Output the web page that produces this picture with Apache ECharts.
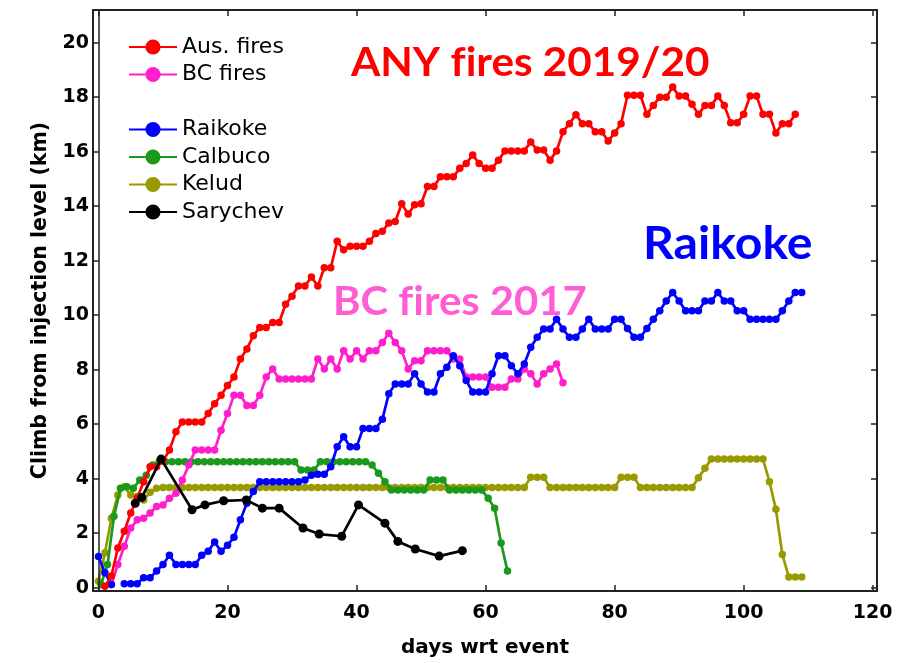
<!DOCTYPE html>
<html>
<head>
<meta charset="utf-8">
<script src="https://cdn.jsdelivr.net/npm/echarts@6/dist/echarts.min.js"></script>
<style>html,body{margin:0;padding:0;background:#fff}#c{width:917px;height:663px}</style>
</head>
<body>
<div id="c"></div>
<script>
// ---- data (day, km) ----
const xTicks = [0, 20, 40, 60, 80, 100, 120];
const yTicks = [0, 2, 4, 6, 8, 10, 12, 14, 16, 18, 20];
const seriesNames = ['Aus. fires', 'BC fires', 'Raikoke', 'Calbuco', 'Kelud', 'Sarychev'];

const ausFires = [[1,0.05],[2,0.43],[3,1.46],[4,2.07],[5,2.74],[6,3.28],[7,3.89],[8,4.44],[9,4.44],[10,4.65],[11,5.05],[12,5.72],[13,6.08],[14,6.08],[15,6.08],[16,6.08],[17,6.39],[18,6.75],[19,7.06],[20,7.42],[21,7.73],[22,8.39],[23,8.76],[24,9.25],[25,9.55],[26,9.55],[27,9.73],[28,9.73],[29,10.4],[30,10.7],[31,11.07],[32,11.07],[33,11.4],[34,11.07],[35,11.74],[36,11.74],[37,12.71],[38,12.4],[39,12.53],[40,12.53],[41,12.53],[42,12.71],[43,13.0],[44,13.08],[45,13.38],[46,13.44],[47,14.09],[48,13.71],[49,14.05],[50,14.09],[51,14.72],[52,14.72],[53,15.08],[54,15.08],[55,15.08],[56,15.39],[57,15.57],[58,15.88],[59,15.57],[60,15.39],[61,15.39],[62,15.69],[63,16.03],[64,16.03],[65,16.03],[66,16.03],[67,16.36],[68,16.06],[69,16.06],[70,15.69],[71,16.03],[72,16.73],[73,17.03],[74,17.36],[75,17.03],[76,17.03],[77,16.73],[78,16.73],[79,16.39],[80,16.69],[81,17.03],[82,18.07],[83,18.07],[84,18.07],[85,17.37],[86,17.7],[87,18.0],[88,18.0],[89,18.37],[90,18.04],[91,18.04],[92,17.74],[93,17.37],[94,17.7],[95,17.7],[96,18.04],[97,17.7],[98,17.06],[99,17.06],[100,17.37],[101,18.04],[102,18.04],[103,17.37],[104,17.37],[105,16.69],[106,17.03],[107,17.03],[108,17.37]];

const bcFires = [[2,0.12],[3,0.85],[4,1.52],[5,2.19],[6,2.49],[7,2.55],[8,2.74],[9,2.98],[10,3.04],[11,3.28],[12,3.47],[13,3.95],[14,4.5],[15,5.05],[16,5.05],[17,5.05],[18,5.05],[19,5.78],[20,6.39],[21,7.06],[22,7.06],[23,6.69],[24,6.69],[25,7.06],[26,7.73],[27,8.03],[28,7.66],[29,7.66],[30,7.66],[31,7.66],[32,7.66],[33,7.66],[34,8.39],[35,8.03],[36,8.39],[37,8.03],[38,8.7],[39,8.39],[40,8.7],[41,8.39],[42,8.7],[43,8.7],[44,9.0],[45,9.34],[46,9.0],[47,8.7],[48,8.03],[49,8.33],[50,8.33],[51,8.7],[52,8.7],[53,8.7],[54,8.7],[55,8.39],[56,8.39],[57,7.73],[58,7.73],[59,7.73],[60,7.73],[61,7.36],[62,7.36],[63,7.36],[64,7.66],[65,7.66],[66,8.03],[67,7.85],[68,7.48],[69,7.85],[70,8.03],[71,8.21],[72,7.52]];

const raikoke = [[0,1.15],[1,0.55],[2,0.12],[3,null],[4,0.15],[5,0.15],[6,0.15],[7,0.37],[8,0.37],[9,0.61],[10,0.85],[11,1.19],[12,0.85],[13,0.85],[14,0.85],[15,0.85],[16,1.19],[17,1.34],[18,1.68],[19,1.34],[20,1.56],[21,1.85],[22,2.49],[23,3.1],[24,3.53],[25,3.89],[26,3.89],[27,3.89],[28,3.89],[29,3.89],[30,3.89],[31,3.89],[32,3.95],[33,4.13],[34,4.16],[35,4.16],[36,4.44],[37,5.17],[38,5.54],[39,5.17],[40,5.17],[41,5.84],[42,5.84],[43,5.84],[44,6.18],[45,7.12],[46,7.48],[47,7.48],[48,7.48],[49,7.85],[50,7.48],[51,7.18],[52,7.18],[53,7.85],[54,8.09],[55,8.51],[56,8.15],[57,7.6],[58,7.18],[59,7.18],[60,7.18],[61,7.85],[62,8.51],[63,8.51],[64,8.15],[65,7.85],[66,8.21],[67,8.82],[68,9.19],[69,9.49],[70,9.49],[71,9.85],[72,9.49],[73,9.19],[74,9.19],[75,9.49],[76,9.85],[77,9.49],[78,9.49],[79,9.49],[80,9.85],[81,9.85],[82,9.51],[83,9.19],[84,9.19],[85,9.51],[86,9.85],[87,10.16],[88,10.52],[89,10.83],[90,10.52],[91,10.16],[92,10.16],[93,10.16],[94,10.52],[95,10.52],[96,10.83],[97,10.52],[98,10.52],[99,10.16],[100,10.16],[101,9.85],[102,9.85],[103,9.85],[104,9.85],[105,9.85],[106,10.16],[107,10.52],[108,10.83],[109,10.83]];

const calbuco = [[0.4,0.12],[1.4,0.85],[2.4,2.62],[3.4,3.65],[4.4,3.71],[5.4,3.65],[6.4,3.95],[7.4,4.13],[8.4,4.5],[9.4,4.62],[10.4,4.62],[11.4,4.62],[12.4,4.62],[13.4,4.62],[14.4,4.62],[15.4,4.62],[16.4,4.62],[17.4,4.62],[18.4,4.62],[19.4,4.62],[20.4,4.62],[21.4,4.62],[22.4,4.62],[23.4,4.62],[24.4,4.62],[25.4,4.62],[26.4,4.62],[27.4,4.62],[28.4,4.62],[29.4,4.62],[30.4,4.62],[31.4,4.32],[32.4,4.32],[33.4,4.32],[34.4,4.62],[35.4,4.62],[36.4,4.62],[37.4,4.62],[38.4,4.62],[39.4,4.62],[40.4,4.62],[41.4,4.62],[42.4,4.5],[43.4,4.2],[44.4,3.89],[45.4,3.59],[46.4,3.59],[47.4,3.59],[48.4,3.59],[49.4,3.59],[50.4,3.59],[51.4,3.95],[52.4,3.95],[53.4,3.95],[54.4,3.59],[55.4,3.59],[56.4,3.59],[57.4,3.59],[58.4,3.59],[59.4,3.59],[60.4,3.28],[61.4,2.92],[62.4,1.64],[63.4,0.61]];

const kelud = [[0,0.24],[1,1.28],[2,2.55],[3,3.4],[4,3.71],[5,3.4],[6,3.35],[7,3.22],[8,3.5],[9,3.65],[10,3.68],[11,3.68],[12,3.68],[13,3.68],[14,3.68],[15,3.68],[16,3.68],[17,3.68],[18,3.68],[19,3.68],[20,3.68],[21,3.68],[22,3.68],[23,3.68],[24,3.68],[25,3.68],[26,3.68],[27,3.68],[28,3.68],[29,3.68],[30,3.68],[31,3.68],[32,3.68],[33,3.68],[34,3.68],[35,3.68],[36,3.68],[37,3.68],[38,3.68],[39,3.68],[40,3.68],[41,3.68],[42,3.68],[43,3.68],[44,3.68],[45,3.68],[46,3.68],[47,3.68],[48,3.68],[49,3.68],[50,3.68],[51,3.68],[52,3.68],[53,3.68],[54,3.68],[55,3.68],[56,3.68],[57,3.68],[58,3.68],[59,3.68],[60,3.68],[61,3.68],[62,3.68],[63,3.68],[64,3.68],[65,3.68],[66,3.68],[67,4.05],[68,4.05],[69,4.05],[70,3.68],[71,3.68],[72,3.68],[73,3.68],[74,3.68],[75,3.68],[76,3.68],[77,3.68],[78,3.68],[79,3.68],[80,3.68],[81,4.05],[82,4.05],[83,4.05],[84,3.68],[85,3.68],[86,3.68],[87,3.68],[88,3.68],[89,3.68],[90,3.68],[91,3.68],[92,3.68],[93,4.04],[94,4.38],[95,4.72],[96,4.72],[97,4.72],[98,4.72],[99,4.72],[100,4.72],[101,4.72],[102,4.72],[103,4.72],[104,3.89],[105,2.88],[106,1.22],[107,0.39],[108,0.39],[109,0.39]];

const sarychev = [[5.7,3.1],[6.7,3.31],[9.7,4.72],[14.5,2.86],[16.5,3.04],[19.4,3.19],[22.9,3.22],[25.4,2.92],[28,2.92],[31.7,2.19],[34.2,1.97],[37.7,1.89],[40.3,3.04],[44.4,2.37],[46.4,1.7],[49.1,1.42],[52.8,1.16],[56.4,1.36]];

// annotation texts (a zero-width non-joiner keeps "f" and "i" as separate letters)
const annotations = ['ANY f\u200Cires 2019/20', 'BC f\u200Cires 2017', 'Raikoke'];

// ---- chart ----
const chart = echarts.init(document.getElementById('c'), null, {renderer: 'canvas'});
const frameColor = '#222';
const tickFont = {fontFamily: 'DejaVu Sans', fontWeight: 'bold', fontSize: 19, color: '#000'};

function mkSeries(name, data, color, size, z) {
  return {
    name: name, type: 'line', data: data, z: z,
    symbol: 'circle', symbolSize: size, showSymbol: true, showAllSymbol: true,
    connectNulls: false,
    itemStyle: {color: color},
    lineStyle: {color: color, width: 2.7},
    emphasis: {disabled: true},
    animation: false
  };
}

const series = [
  mkSeries(seriesNames[4], kelud, '#999900', 7.5, 2),
  mkSeries(seriesNames[3], calbuco, '#1a991a', 7.5, 3),
  mkSeries(seriesNames[1], bcFires, '#ff1ecc', 7.5, 4),
  mkSeries(seriesNames[2], raikoke, '#0000ff', 7.5, 5),
  mkSeries(seriesNames[0], ausFires, '#ff0000', 7.5, 6),
  mkSeries(seriesNames[5], sarychev, '#000000', 9, 7)
];
series[0].markLine = {
  silent: true, symbol: ['none', 'none'], label: {show: false},
  lineStyle: {color: frameColor, width: 1.5, type: 'solid'},
  data: [{xAxis: 0}], animation: false
};

const legendCommon = {
  orient: 'vertical', left: 128, padding: 0, itemWidth: 48, itemHeight: 19, itemGap: 5.5,
  selectedMode: false,
  textStyle: {fontFamily: 'DejaVu Sans', fontSize: 22, color: '#000', lineHeight: 22}
};

const option = {
  animation: false,
  backgroundColor: '#fff',
  grid: {left: 93, right: 40, top: 10, bottom: 70, show: false},
  legend: [
    Object.assign({}, legendCommon, {data: [seriesNames[0], seriesNames[1]], top: 36}),
    Object.assign({}, legendCommon, {data: [seriesNames[2], seriesNames[3], seriesNames[4], seriesNames[5]], top: 118.5})
  ],
  xAxis: [
    {
      type: 'value', min: -0.85, max: 120.67, position: 'bottom',
      axisLine: {show: true, onZero: false, lineStyle: {color: frameColor, width: 2}},
      axisTick: {show: true, inside: true, length: 6, customValues: xTicks, lineStyle: {color: frameColor, width: 1.5}},
      axisLabel: Object.assign({customValues: xTicks, margin: 13}, tickFont),
      splitLine: {show: false},
      name: 'days wrt event', nameLocation: 'middle', nameGap: 47,
      nameTextStyle: {fontFamily: 'DejaVu Sans', fontWeight: 'bold', fontSize: 20, color: '#000'}
    },
    {
      type: 'value', min: -0.85, max: 120.67, position: 'top',
      axisLine: {show: true, onZero: false, lineStyle: {color: frameColor, width: 2}},
      axisTick: {show: true, inside: true, length: 6, customValues: xTicks, lineStyle: {color: frameColor, width: 1.5}},
      axisLabel: {show: false}, splitLine: {show: false}
    }
  ],
  yAxis: [
    {
      type: 'value', min: -0.12, max: 21.2, position: 'left',
      axisLine: {show: true, onZero: false, lineStyle: {color: frameColor, width: 2}},
      axisTick: {show: true, inside: true, length: 6, customValues: yTicks, lineStyle: {color: frameColor, width: 1.5}},
      axisLabel: Object.assign({customValues: yTicks, margin: 4}, tickFont),
      splitLine: {show: false},
      name: 'Climb from injection level (km)', nameLocation: 'middle', nameRotate: 90, nameGap: 42,
      nameTextStyle: {fontFamily: 'DejaVu Sans', fontWeight: 'bold', fontSize: 20.5, color: '#000'}
    },
    {
      type: 'value', min: -0.12, max: 21.2, position: 'right',
      axisLine: {show: true, onZero: false, lineStyle: {color: frameColor, width: 2}},
      axisTick: {show: true, inside: true, length: 6, customValues: yTicks, lineStyle: {color: frameColor, width: 1.5}},
      axisLabel: {show: false}, splitLine: {show: false}
    }
  ],
  graphic: [
    {type: 'text', x: 351, y: 63, scaleX: 1.03, z: 100,
     style: {text: annotations[0], fill: '#ff0000', font: 'bold 41px Lato', verticalAlign: 'middle', align: 'left'}},
    {type: 'text', x: 333, y: 301.7, scaleX: 1.02, z: 100,
     style: {text: annotations[1], fill: '#ff5cd6', font: 'bold 41px Lato', verticalAlign: 'middle', align: 'left'}},
    {type: 'text', x: 643, y: 244.5, scaleX: 1.07, z: 100,
     style: {text: annotations[2], fill: '#0000ff', font: 'bold 45px Lato', verticalAlign: 'middle', align: 'left'}}
  ],
  series: series
};
chart.setOption(option);
</script>
</body>
</html>
